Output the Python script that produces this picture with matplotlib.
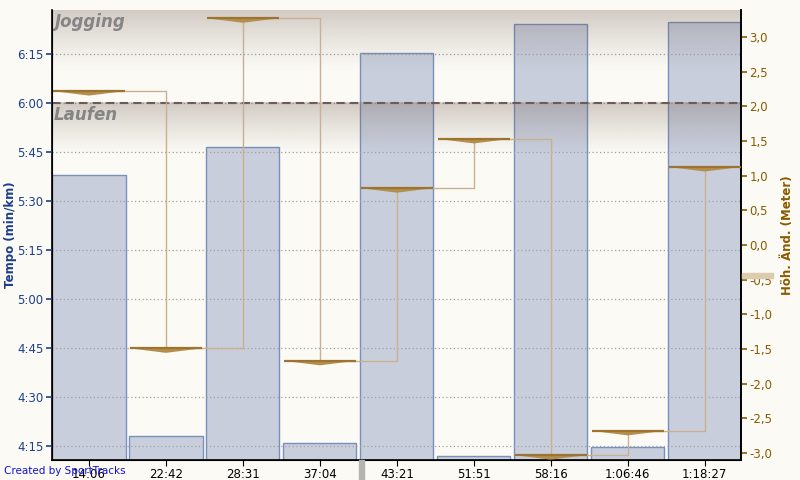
import numpy as np
import matplotlib
matplotlib.use("Agg")
from matplotlib import pyplot as plt
from matplotlib.patches import Polygon, Rectangle

# lap end times (x labels), pace per lap in seconds/km, elevation change in m
lap_labels = ["14:06", "22:42", "28:31", "37:04", "43:21", "51:51", "58:16", "1:06:46", "1:18:27"]
pace_sec = [338, 258, 346.5, 255.8, 375.3, 252, 384.2, 254.7, 384.8]
elev_change = [2.22, -1.49, 3.27, -1.67, 0.82, 1.53, -3.03, -2.68, 1.125]

pace_ticks = [255, 270, 285, 300, 315, 330, 345, 360, 375]
elev_ticks = [-3.0, -2.5, -2.0, -1.5, -1.0, -0.5, 0.0, 0.5, 1.0, 1.5, 2.0, 2.5, 3.0]
zone_names = ["Jogging", "Laufen"]
zone_limit = 360

BG = "#fbfaf5"
BLUE = "#1d3f8a"
BROWN = "#8b5a00"

plt.rcParams["font.family"] = "DejaVu Sans"

fig = plt.figure(figsize=(8, 4.8), dpi=100, facecolor=BG)
ax = fig.add_axes([52 / 800, 20 / 480, 689 / 800, 450 / 480])
ax.set_facecolor(BG)

x = np.arange(len(lap_labels))
ylo, yhi = 250.7, 388.5
xl = (-0.48, len(x) - 1 + 0.47)

ax.bar(x, np.array(pace_sec) - ylo, bottom=ylo, width=0.95, color="#c8cedc",
       edgecolor="#7890bb", linewidth=1, zorder=2)

# zone shading: dark at top edge of each zone, fading downward
def shade(top, fade):
    n = 100
    alpha = 0.30 * np.linspace(1.0, 0.0, n) ** 1.2
    img = np.zeros((n, 2, 4))
    img[:, :, 0] = 112 / 255
    img[:, :, 1] = 90 / 255
    img[:, :, 2] = 78 / 255
    img[:, :, 3] = alpha[:, None]
    ax.imshow(img, extent=(xl[0], xl[1], top - fade, top),
              aspect="auto", origin="upper", zorder=3, interpolation="bilinear")

shade(yhi, 19)
shade(zone_limit, 16)
ax.set_xlim(*xl)
ax.set_ylim(ylo, yhi)

ax.axhline(zone_limit, color="#6e5a58", lw=1.5, dashes=(4, 2.5), zorder=4)
ax.text(0.004, 0.993, zone_names[0], transform=ax.transAxes, ha="left", va="top",
        fontsize=12, fontstyle="italic", fontweight="bold", color="#858585", zorder=5)
ax.text(-0.46, zone_limit - 1.0, zone_names[1], ha="left", va="top",
        fontsize=12, fontstyle="italic", fontweight="bold", color="#858585", zorder=5)

ax.set_yticks(pace_ticks)
ax.set_yticklabels(["%d:%02d" % (t // 60, t % 60) for t in pace_ticks])
ax.yaxis.grid(True, color="#a0a0a0", lw=0.9, linestyle=(0, (1, 2)), zorder=3)
ax.set_axisbelow(False)
ax.tick_params(axis="y", colors=BLUE, labelsize=8.5, length=4, width=1.2, pad=2)
ax.set_xticks(x)
ax.set_xticklabels(lap_labels)
ax.tick_params(axis="x", colors="black", labelsize=8.5, length=4, pad=1.5)
ax.set_ylabel("Tempo (min/km)", color=BLUE, fontweight="bold", fontsize=8.5, labelpad=0)
ax.spines["top"].set_visible(False)
for s in ["left", "bottom", "right"]:
    ax.spines[s].set_color("black")
    ax.spines[s].set_linewidth(1.2)

ax2 = ax.twinx()
ax2.set_ylim(-3.10, 3.389)
ax2.step(x, elev_change, where="post", color="#c8b090", lw=1, zorder=2)
for xi, yi in zip(x, elev_change):
    tri = Polygon([(xi - 0.47, yi), (xi + 0.47, yi), (xi, yi - 0.065)], closed=True,
                  facecolor="#b48e4c", edgecolor="none", zorder=3)
    ax2.add_patch(tri)
    ax2.plot([xi - 0.47, xi + 0.47], [yi, yi], color="#9c7430", lw=1.6, zorder=4,
             solid_capstyle="butt")
ax2.set_yticks(elev_ticks)
ax2.set_yticklabels([("%.1f" % t).replace(".", ",") for t in elev_ticks])
ax2.tick_params(axis="y", colors=BROWN, labelsize=8.5, length=4, width=1.2, pad=2)
ax2.set_ylabel("Höh. Änd. (Meter)", color=BROWN, fontweight="bold", fontsize=8.5, labelpad=6)
ax2.spines["top"].set_visible(False)
ax2.spines["right"].set_color("black")
ax2.spines["right"].set_linewidth(1.2)

# small decorations outside the plot area
fig.patches.append(Rectangle((742 / 800, 1 - 278 / 480), 31 / 800, 5 / 480,
                             transform=fig.transFigure, color="#dccbad", zorder=0))
fig.patches.append(Rectangle((359 / 800, 0), 5 / 800, 20 / 480,
                             transform=fig.transFigure, color="#b4b4b0", zorder=0))
fig.text(4 / 800, 1 - 471 / 480, "Created by SportTracks", color="#1010e0",
         fontsize=7.5, va="center", ha="left")

fig.savefig("out.png", dpi=100, facecolor=BG)
